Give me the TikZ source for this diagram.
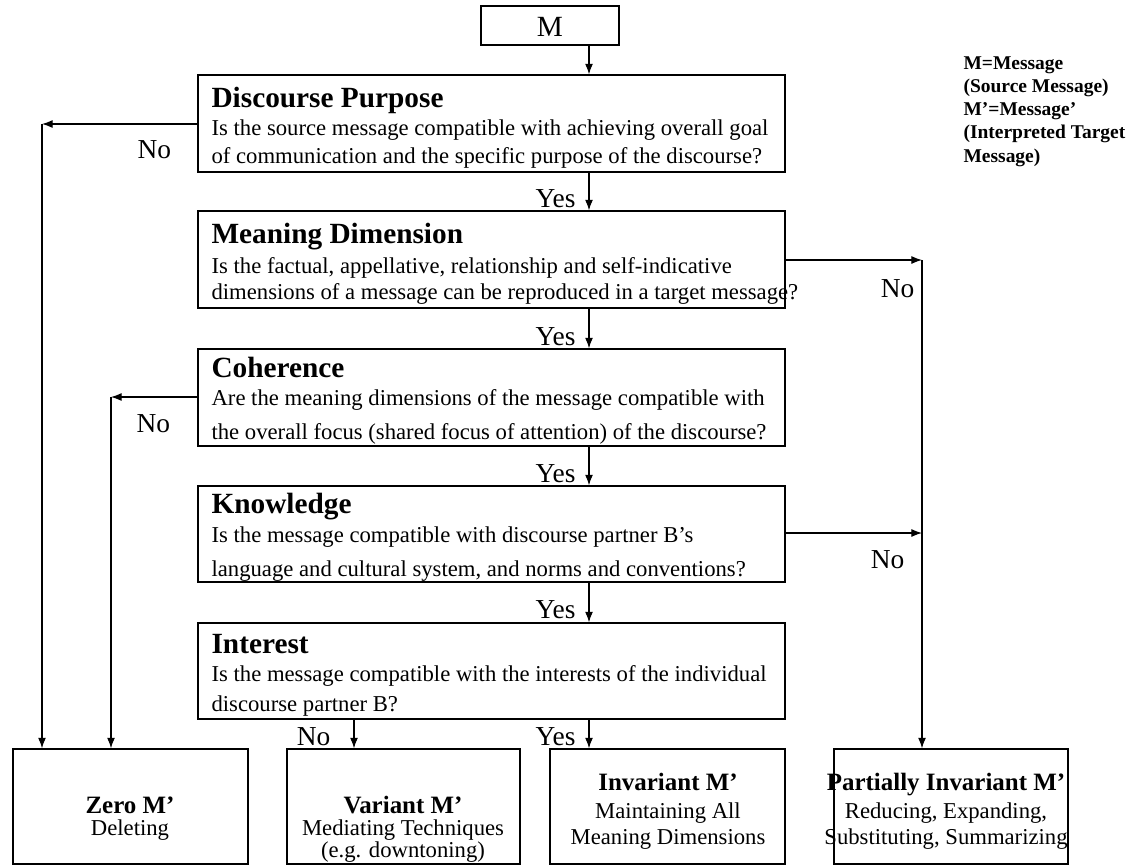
\documentclass[tikz,border=0pt]{standalone}
\usepackage{fontspec}
\setmainfont{Liberation Serif}
\usetikzlibrary{fit, arrows.meta}

\tikzset{
  qbox/.style = {draw, line width=0.7pt, inner sep=0pt},
  ttl/.style = {font=\fontsize{15.5}{18}\selectfont\bfseries, inner sep=0pt, anchor=base west},
  txt/.style = {font=\fontsize{12}{14}\selectfont, inner sep=0pt, anchor=base west},
  otl/.style = {font=\fontsize{13.2}{16}\selectfont\bfseries, inner sep=0pt, anchor=base},
  otx/.style = {font=\fontsize{12}{14}\selectfont, inner sep=0pt, anchor=base},
  lbl/.style = {font=\fontsize{14.5}{17}\selectfont, inner sep=0pt},
  key/.style = {font=\fontsize{10.3}{12}\selectfont\bfseries, inner sep=0pt, anchor=base west},
  every path/.style = {line width=0.6pt},
  >={Latex[length=5.6pt, width=4.2pt]}
}

\begin{document}
\begin{tikzpicture}[x=0.529pt, y=-0.529pt]
  \useasboundingbox (0,0) rectangle (1130,866);

  \coordinate (spine) at (589,0);
  \coordinate (spineno) at (354,0);
  \coordinate (l1) at (42,124);
  \coordinate (l2) at (111,397);
  \coordinate (r1) at (922,260);
  \coordinate (r2) at (922,533);

  \node[qbox, fit={(481,6) (619,45)}] (mbox) {};
  \node[lbl, font=\fontsize{15.5}{18}\selectfont, anchor=base] (mT) at (550,36) {M};

  \node[qbox, fit={(198,75) (785,172)}] (dp) {};
  \node[ttl] (dpT) at (211,107) {Discourse Purpose};
  \node[txt] (dp1) at (211,135) {Is the source message compatible with achieving overall goal};
  \node[txt] (dp2) at (211,163) {of communication and the specific purpose of the discourse?};

  \node[qbox, fit={(198,211) (785,308)}] (md) {};
  \node[ttl] (mdT) at (211,243) {Meaning Dimension};
  \node[txt] (md1) at (211,273) {Is the factual, appellative, relationship and self-indicative};
  \node[txt] (md2) at (211,299) {dimensions of a message can be reproduced in a target message?};

  \node[qbox, fit={(198,349) (785,446)}] (coh) {};
  \node[ttl] (cohT) at (211,377) {Coherence};
  \node[txt] (coh1) at (211,405) {Are the meaning dimensions of the message compatible with};
  \node[txt] (coh2) at (211,439) {the overall focus (shared focus of attention) of the discourse?};

  \node[qbox, fit={(198,486) (785,582)}] (kn) {};
  \node[ttl] (knT) at (211,513) {Knowledge};
  \node[txt] (kn1) at (211,542) {Is the message compatible with discourse partner B’s};
  \node[txt] (kn2) at (211,576) {language and cultural system, and norms and conventions?};

  \node[qbox, fit={(198,623) (785,719)}] (int) {};
  \node[ttl] (intT) at (211,653) {Interest};
  \node[txt] (int1) at (211,681) {Is the message compatible with the interests of the individual};
  \node[txt] (int2) at (211,711) {discourse partner B?};

  \node[qbox, fit={(13,749) (248,864)}] (zero) {};
  \node[otl] (zeroT) at (130,813) {Zero M’};
  \node[otx] (zero1) at (130,835) {Deleting};

  \node[qbox, fit={(287,749) (520,864)}] (var) {};
  \node[otl] (varT) at (403,813) {Variant M’};
  \node[otx] (var1) at (403,835) {Mediating Techniques};
  \node[otx] (var2) at (403,857) {(e.g. downtoning)};

  \node[qbox, fit={(550,749) (785,864)}] (inv) {};
  \node[otl] (invT) at (668,790) {Invariant M’};
  \node[otx] (inv1) at (668,818) {Maintaining All};
  \node[otx] (inv2) at (668,844) {Meaning Dimensions};

  \node[qbox, fit={(834,749) (1068,864)}] (part) {};
  \node[otl] (partT) at (946,790) {Partially Invariant M’};
  \node[otx] (part1) at (946,818) {Reducing, Expanding,};
  \node[otx] (part2) at (946,844) {Substituting, Summarizing};

  \foreach \t [count=\i] in {M=Message, {(Source Message)}, M’=Message’, {(Interpreted Target}, {Message)}}
  {
  \node[key] (key\i) at (963, {69+23.3*(\i-1)}) {\t};
  }

  \draw[->] (mbox.south -| spine) -- (dp.north -| spine);
  \foreach \a/\b/\y in {dp/md/207, md/coh/345, coh/kn/482, kn/int/618}
  {
  \draw[->] (\a.south -| spine) -- (\b.north -| spine);
  \node[lbl, anchor=base east] (yes\a) at (576,\y) {Yes};
  }
  \draw[->] (int.south -| spine) -- (inv.north -| spine);
  \node[lbl, anchor=base east] (yesint) at (576,745) {Yes};
  \draw[->] (int.south -| spineno) -- (var.north -| spineno);
  \node[lbl, anchor=base east] (noint) at (331,745) {No};

  \draw[->] (dp.west |- l1) -- (l1);
  \draw[->] (l1) -- (zero.north -| l1);
  \node[lbl, anchor=base west] (nodp) at (137,158) {No};
  \draw[->] (coh.west |- l2) -- (l2);
  \draw[->] (l2) -- (zero.north -| l2);
  \node[lbl, anchor=base west] (nocoh) at (136,432) {No};

  \draw[->] (md.east |- r1) -- (r1);
  \draw[->] (kn.east |- r2) -- (r2);
  \draw[->] (r1) -- (part.north -| r1);
  \node[lbl, anchor=base east] (nomd) at (915,297) {No};
  \node[lbl, anchor=base east] (nokn) at (905,568) {No};
\end{tikzpicture}
\end{document}
